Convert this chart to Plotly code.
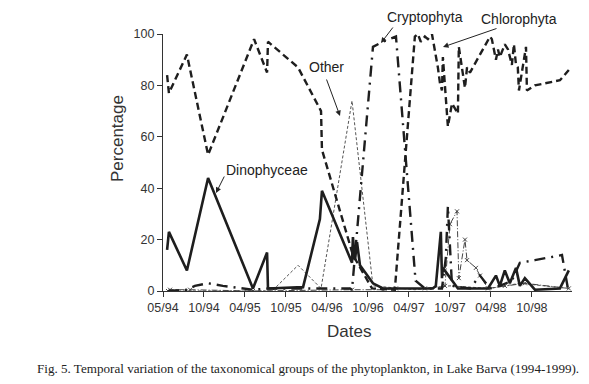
import plotly.graph_objects as go

# ---------------- data ----------------
chloro_dates = ["1994-05-19", "1994-05-27", "1994-08-14", "1994-11-15", "1995-06-05", "1995-08-01",
                "1995-08-05", "1995-12-15", "1996-03-25", "1996-03-29", "1996-08-12", "1996-11-04",
                "1997-02-12", "1997-05-11", "1997-05-24", "1997-06-06", "1997-06-24", "1997-07-07",
                "1997-07-25", "1997-08-07", "1997-08-20", "1997-08-29", "1997-09-07", "1997-09-11",
                "1997-09-20", "1997-10-03", "1997-10-21", "1997-11-16", "1997-11-20", "1997-12-17",
                "1997-12-26", "1998-01-08", "1998-04-06", "1998-04-14", "1998-05-02", "1998-05-11",
                "1998-05-19", "1998-06-10", "1998-06-24", "1998-07-11", "1998-07-20", "1998-07-29",
                "1998-08-06", "1998-08-11", "1998-09-11", "1998-09-15", "1998-10-20", "1999-02-07",
                "1999-03-18"]
chloro_vals = [84, 77, 92, 53, 98, 85,
               97, 87, 70, 55, 14, 1,
               0.5, 99, 100, 97, 99, 98,
               100, 94, 87, 81, 78, 91,
               79, 64, 73, 69, 95, 79,
               87, 85, 99, 98, 90, 94,
               91, 96, 94, 88, 96, 88,
               87, 78, 95, 78, 80, 82,
               86]

dino_dates = ["1994-05-19", "1994-05-27", "1994-08-14", "1994-11-15", "1995-05-31", "1995-08-01",
              "1995-08-05", "1996-01-06", "1996-03-20", "1996-03-29", "1996-08-08", "1996-08-12",
              "1996-08-21", "1996-08-30", "1996-09-12", "1996-11-08", "1996-12-22", "1997-07-29",
              "1997-08-11", "1997-09-02", "1997-09-07", "1997-09-11", "1997-11-16", "1998-03-28",
              "1998-05-02", "1998-05-19", "1998-06-10", "1998-07-02", "1998-07-29", "1998-08-15",
              "1998-09-06", "1998-10-20", "1999-02-07", "1999-03-18"]
dino_vals = [16, 23, 8, 44, 1, 15,
             1, 1.5, 28, 39, 11, 21,
             12, 19, 10, 3, 1, 1,
             2, 23, 5, 9, 1, 1,
             6, 2, 8, 3, 9, 2,
             5, 0.5, 1, 8]

crypto_dates = ["1994-05-23", "1994-08-14", "1994-09-18", "1994-11-15", "1995-01-19", "1995-05-31",
                "1995-08-05", "1995-12-23", "1996-03-29", "1996-07-30", "1996-08-08", "1996-11-08",
                "1996-12-22", "1997-02-17", "1997-05-14", "1997-06-24", "1997-09-07", "1997-09-24",
                "1997-10-03", "1997-10-21", "1998-01-08", "1998-02-21", "1998-04-06", "1998-05-19",
                "1998-07-11", "1998-08-15", "1998-10-20", "1999-02-16", "1999-03-14"]
crypto_vals = [0, 0.5, 2, 3, 2, 0.5,
               1, 1, 1, 1, 0.5, 95,
               97, 99, 4, 1, 1, 13,
               33, 2, 1, 6, 1, 2,
               4, 11, 12, 14, 1]

other_dates = ["1994-05-23", "1995-05-31", "1995-08-23", "1995-12-15", "1996-03-25", "1996-08-08",
               "1996-11-08", "1997-05-11", "1997-10-12", "1998-04-06", "1998-08-15", "1999-03-18"]
other_vals = [0, 0, 0, 10, 1, 74,
              2, 0.5, 2, 1, 3, 1]

bacil_dates = ["1994-05-23", "1994-06-01", "1994-08-28", "1995-05-31", "1996-08-08", "1996-12-22",
               "1997-02-17", "1997-06-24", "1997-09-20", "1997-10-12", "1997-11-12", "1997-11-20",
               "1997-12-17", "1997-12-26", "1998-02-03", "1998-02-21", "1998-03-28", "1998-06-10",
               "1998-09-06", "1999-03-18"]
bacil_vals = [0, 0.5, 0.5, 0, 0.5, 0.5,
              1, 1, 2, 26, 31, 5,
              20, 12, 9, 6, 1, 2,
              3, 1]

tick_dates = ["1994-05-01", "1994-10-28", "1995-04-26", "1995-10-23", "1996-04-20",
              "1996-10-17", "1997-04-15", "1997-10-12", "1998-04-10", "1998-10-07"]
tick_labels = ["05/94", "10/94", "04/95", "10/95", "04/96", "10/96", "04/97", "10/97", "04/98", "10/98"]
y_ticks = [0, 20, 40, 60, 80, 100]

# ---------------- figure ----------------
OFF = 8  # page body margin of the html page
W, H = 589 - OFF, 384 - OFF
L, R, T, B = 163 - OFF, 572 - OFF, 34 - OFF, 291 - OFF  # plot area in figure pixels

def px(x):
    return (x - OFF - L) / (R - L)

def py(y):
    return (B - (y - OFF)) / (B - T)

ink = "#1e1e1e"
fig = go.Figure()
fig.add_trace(go.Scatter(x=other_dates, y=other_vals, mode="lines", name="Other",
                         line=dict(color="#555555", width=1, dash="3px,2px")))
fig.add_trace(go.Scatter(x=bacil_dates, y=bacil_vals, mode="lines+markers", name="Bacillariophyceae",
                         line=dict(color="#444444", width=1, dash="6px,2px,1px,2px"),
                         marker=dict(symbol="x-thin", size=4, line=dict(width=1, color="#444444"))))
fig.add_trace(go.Scatter(x=crypto_dates, y=crypto_vals, mode="lines", name="Cryptophyta",
                         line=dict(color=ink, width=2.4, dash="11px,6px,2px,6px")))
fig.add_trace(go.Scatter(x=dino_dates, y=dino_vals, mode="lines", name="Dinophyceae",
                         line=dict(color=ink, width=2.6)))
fig.add_trace(go.Scatter(x=chloro_dates, y=chloro_vals, mode="lines", name="Chlorophyta",
                         line=dict(color=ink, width=2.4, dash="7px,4px")))

axis_font = dict(family="Liberation Sans, Arial, sans-serif", size=12.5, color="#333333")
fig.update_layout(
    width=W, height=H,
    margin=dict(l=L, r=W - R, t=T, b=H - B),
    paper_bgcolor="white", plot_bgcolor="white",
    showlegend=False,
    xaxis=dict(type="date", range=["1994-05-01", "1999-04-01"],
               tickvals=tick_dates, ticktext=tick_labels,
               showline=True, linecolor="#333333", linewidth=1.2,
               ticks="outside", ticklen=5, tickcolor="#333333", tickwidth=1,
               showgrid=False, zeroline=False, tickfont=axis_font),
    yaxis=dict(range=[0, 100], tickvals=y_ticks,
               showline=True, linecolor="#333333", linewidth=1.2,
               ticks="outside", ticklen=5, tickcolor="#333333", tickwidth=1,
               showgrid=False, zeroline=False, tickfont=axis_font),
)

lab_font = dict(family="Liberation Sans, Arial, sans-serif", size=14, color="#222222")
title_font = dict(family="Liberation Sans, Arial, sans-serif", size=17, color="#333333")

def text(x, y, s, font, angle=0):
    fig.add_annotation(x=px(x), y=py(y), xref="paper", yref="paper", text=s, showarrow=False,
                       font=font, textangle=angle, xanchor="center", yanchor="middle")

def arrow(x0, y0, x1, y1):
    fig.add_annotation(x=px(x1), y=py(y1), xref="paper", yref="paper", text="",
                       showarrow=True, ax=x0 - x1, ay=y0 - y1, arrowhead=2, arrowsize=1.1,
                       arrowwidth=1, arrowcolor="#222222")

text(117, 139, "Percentage", title_font, angle=-90)
text(349, 332, "Dates", title_font)
text(267, 170, "Dinophyceae", lab_font)
arrow(225, 175, 216, 193)
text(326, 67, "Other", lab_font)
arrow(326, 78, 340, 116)
text(425, 17, "Cryptophyta", lab_font)
arrow(394, 26, 381, 43)
text(519, 19, "Chlorophyta", lab_font)
arrow(498, 28, 443, 47)

fig.add_annotation(x=px(308), y=py(368), xref="paper", yref="paper",
                   text="Fig. 5. Temporal variation of the taxonomical groups of the phytoplankton, in Lake Barva (1994-1999).",
                   showarrow=False, xanchor="center", yanchor="middle",
                   font=dict(family="Liberation Serif, Times New Roman, serif", size=13.1, color="#222222"))

fig.write_html("out.html")
